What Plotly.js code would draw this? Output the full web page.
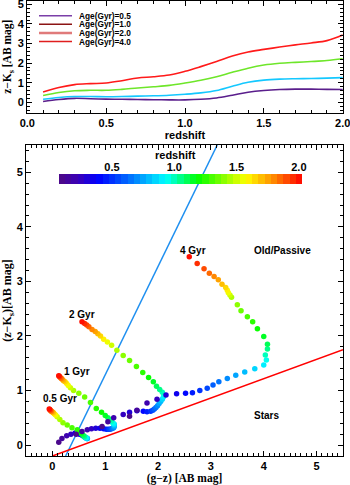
<!DOCTYPE html>
<html>
<head>
<meta charset="utf-8">
<script src="https://cdn.plot.ly/plotly-3.0.1.min.js"></script>
<style>
  html, body { margin: 0; padding: 0; background: #fff; }
  #chart { width: 350px; height: 485px; }
</style>
</head>
<body>
<div id="chart"></div>
<script>
// top panel: z-Ks colour vs redshift for four ages
const redshiftGrid = [0.1, 0.2, 0.3, 0.4, 0.5, 0.6, 0.7, 0.8, 0.9, 1.0,
                      1.1, 1.2, 1.3, 1.4, 1.5, 1.6, 1.7, 1.8, 1.9, 2.0];
const zk05 = [0.04, 0.14, 0.20, 0.18, 0.16, 0.15, 0.14, 0.13, 0.12, 0.12,
              0.15, 0.22, 0.36, 0.51, 0.60, 0.65, 0.67, 0.67, 0.66, 0.65];
const zk10 = [0.15, 0.24, 0.29, 0.29, 0.28, 0.29, 0.31, 0.33, 0.36, 0.41,
              0.48, 0.60, 0.82, 1.02, 1.13, 1.18, 1.20, 1.21, 1.23, 1.26];
const zk20 = [0.34, 0.50, 0.59, 0.61, 0.61, 0.66, 0.73, 0.79, 0.86, 0.98,
              1.12, 1.30, 1.53, 1.74, 1.90, 1.99, 2.04, 2.08, 2.13, 2.22];
const zk40 = [0.52, 0.75, 0.90, 0.95, 0.98, 1.10, 1.24, 1.30, 1.39, 1.58,
              1.82, 2.08, 2.36, 2.57, 2.70, 2.82, 2.93, 3.03, 3.15, 3.44];
const legendLabels = ['Age(Gyr)=0.5', 'Age(Gyr)=1.0', 'Age(Gyr)=2.0', 'Age(Gyr)=4.0'];
const topTicks = [0, 0.5, 1, 1.5, 2];

// bottom panel: colour-colour tracks, redshift 0.1 .. 2.0
const trackZ = [0.10, 0.15, 0.20, 0.25, 0.30, 0.35, 0.40, 0.45, 0.50, 0.55,
                0.60, 0.65, 0.70, 0.75, 0.80, 0.85, 0.90, 0.95, 1.00, 1.05,
                1.10, 1.15, 1.20, 1.25, 1.30, 1.35, 1.40, 1.45, 1.50, 1.55,
                1.60, 1.65, 1.70, 1.75, 1.80, 1.85, 1.90, 1.95, 2.00];
const gz05 = [0.12, 0.18, 0.27, 0.35, 0.43, 0.50, 0.52, 0.56, 0.59, 0.61,
              0.63, 0.64, 0.65, 0.66, 0.66, 0.65, 0.64, 0.63, 0.61, 0.60,
              0.58, 0.55, 0.53, 0.47, 0.37, 0.28, 0.20, 0.14, 0.09, 0.06,
              0.04, 0.02, 0.01, -0.01, -0.02, -0.03, -0.04, -0.05, -0.06];
const zkT05 = [0.05, 0.12, 0.17, 0.20, 0.22, 0.21, 0.20, 0.18, 0.16, 0.15,
               0.14, 0.13, 0.12, 0.12, 0.12, 0.13, 0.13, 0.14, 0.15, 0.16,
               0.18, 0.21, 0.23, 0.28, 0.32, 0.37, 0.41, 0.47, 0.52, 0.55,
               0.57, 0.59, 0.60, 0.61, 0.62, 0.63, 0.64, 0.65, 0.66];
const gz10 = [0.45, 0.56, 0.66, 0.74, 0.82, 0.90, 0.97, 1.02, 1.06, 1.09,
              1.12, 1.14, 1.16, 1.17, 1.17, 1.17, 1.16, 1.14, 1.12, 1.09,
              1.05, 1.00, 0.93, 0.83, 0.72, 0.61, 0.50, 0.40, 0.34, 0.30,
              0.27, 0.24, 0.21, 0.19, 0.17, 0.16, 0.14, 0.13, 0.12];
const zkT10 = [0.20, 0.25, 0.28, 0.30, 0.31, 0.31, 0.30, 0.29, 0.29, 0.29,
               0.30, 0.31, 0.32, 0.34, 0.36, 0.38, 0.39, 0.41, 0.44, 0.47,
               0.50, 0.54, 0.60, 0.67, 0.78, 0.88, 0.95, 1.00, 1.05, 1.09,
               1.13, 1.16, 1.18, 1.20, 1.22, 1.23, 1.25, 1.26, 1.27];
const gz20 = [0.94, 1.05, 1.16, 1.34, 1.46, 1.60, 1.72, 1.79, 1.86, 1.90,
              1.93, 1.96, 1.99, 2.02, 2.05, 2.08, 2.10, 2.11, 2.08, 2.03,
              1.97, 1.91, 1.82, 1.71, 1.59, 1.46, 1.34, 1.22, 1.12, 1.04,
              0.97, 0.91, 0.86, 0.81, 0.75, 0.69, 0.65, 0.61, 0.56];
const zkT20 = [0.34, 0.43, 0.50, 0.56, 0.60, 0.63, 0.62, 0.61, 0.62, 0.64,
               0.66, 0.69, 0.72, 0.76, 0.80, 0.84, 0.88, 0.92, 0.97, 1.02,
               1.08, 1.16, 1.24, 1.33, 1.44, 1.55, 1.64, 1.74, 1.83, 1.89,
               1.94, 2.00, 2.04, 2.08, 2.12, 2.17, 2.20, 2.23, 2.26];
const gz40 = [1.46, 1.60, 1.79, 1.98, 2.15, 2.35, 2.52, 2.65, 2.79, 2.93,
              3.04, 3.15, 3.31, 3.47, 3.64, 3.83, 4.00, 4.05, 4.03, 4.07,
              4.07, 4.00, 3.88, 3.79, 3.69, 3.57, 3.50, 3.39, 3.36, 3.33,
              3.31, 3.28, 3.21, 3.14, 3.06, 2.97, 2.87, 2.74, 2.59];
const zkT40 = [0.53, 0.64, 0.77, 0.84, 0.92, 0.94, 0.95, 0.96, 1.00, 1.04,
               1.10, 1.16, 1.22, 1.28, 1.34, 1.40, 1.47, 1.56, 1.65, 1.76,
               1.85, 1.99, 2.13, 2.26, 2.35, 2.46, 2.57, 2.71, 2.75, 2.79,
               2.84, 2.89, 2.95, 3.03, 3.09, 3.15, 3.23, 3.33, 3.45];

// dividing lines
const passiveLineX = [0.25, 3.12];
const passiveLineY = [-0.2, 5.5];
const starLineX = [0.0, 5.5];
const starLineY = [-0.2, 1.75];

// colour bar blocks
const barZ = [0.10, 0.15, 0.20, 0.25, 0.30, 0.35, 0.40, 0.45, 0.50, 0.55,
              0.60, 0.65, 0.70, 0.75, 0.80, 0.85, 0.90, 0.95, 1.00, 1.05,
              1.10, 1.15, 1.20, 1.25, 1.30, 1.35, 1.40, 1.45, 1.50, 1.55,
              1.60, 1.65, 1.70, 1.75, 1.80, 1.85, 1.90, 1.95, 2.00];
const barTicks = [0.5, 1.0, 1.5, 2.0];

const rainbow = [
  [0.00, '#4e0a84'], [0.08, '#3a00b8'], [0.16, '#0000ff'], [0.30, '#0078ff'],
  [0.44, '#00ffff'], [0.57, '#00ff00'], [0.77, '#ffff00'], [0.88, '#ff8c00'],
  [1.00, '#ff0000']
];

const FONT = 'Liberation Sans, Arial, sans-serif';
const SERIF = 'Liberation Serif, Times New Roman, serif';

const W = 350, H = 485;
const px = v => v / W;
const py = v => 1 - v / H;

const ageColors = ['#5a1e8c', '#14c8ff', '#6ee62a', '#ff1a1a'];
const topCurves = [zk05, zk10, zk20, zk40];

const traces = [];
topCurves.forEach((ys, i) => {
  traces.push({
    x: redshiftGrid, y: ys, type: 'scatter', mode: 'lines',
    line: { color: ageColors[i], width: 1.6, shape: 'spline' },
    xaxis: 'x', yaxis: 'y', showlegend: false, hoverinfo: 'skip'
  });
});

traces.push({
  x: passiveLineX, y: passiveLineY, type: 'scatter', mode: 'lines',
  line: { color: '#1e8ff0', width: 1.5 }, xaxis: 'x2', yaxis: 'y2', showlegend: false
});
traces.push({
  x: starLineX, y: starLineY, type: 'scatter', mode: 'lines',
  line: { color: '#ff0000', width: 1.5 }, xaxis: 'x2', yaxis: 'y2', showlegend: false
});

[[gz05, zkT05], [gz10, zkT10], [gz20, zkT20], [gz40, zkT40]].forEach(t => {
  traces.push({
    x: t[0], y: t[1], type: 'scatter', mode: 'markers',
    marker: { size: 5.5, color: trackZ, colorscale: rainbow, cmin: 0.075, cmax: 2.025, showscale: false },
    xaxis: 'x2', yaxis: 'y2', showlegend: false
  });
});

traces.push({
  x: barZ, y: [0], z: [barZ], type: 'heatmap', colorscale: rainbow,
  zmin: 0.075, zmax: 2.025, showscale: false, xaxis: 'x3', yaxis: 'y3', hoverinfo: 'skip'
});

const tickFont = { family: FONT, size: 11, color: '#000', weight: 'bold' };
const frame = {
  showline: true, mirror: 'allticks', linecolor: '#000', linewidth: 1,
  ticks: 'inside', ticklen: 5, tickcolor: '#000', tickwidth: 1,
  showgrid: false, zeroline: false, tickfont: tickFont, ticklabeloverflow: 'allow'
};

const legendShapes = [];
const legendNotes = [];
const legendSwatch = ['#7b3fa8', '#8b1414', '#e07a7a', '#e01e1e'];
const legendWidth = [1.5, 1.5, 2.5, 1.5];
legendLabels.forEach((lab, i) => {
  const yy = 15.7 + i * 8.6;
  legendShapes.push({
    type: 'line', xref: 'paper', yref: 'paper',
    x0: px(39), x1: px(72), y0: py(yy), y1: py(yy),
    line: { color: legendSwatch[i], width: legendWidth[i] }
  });
  legendNotes.push({
    xref: 'paper', yref: 'paper', x: px(77), y: py(yy), xanchor: 'left', yanchor: 'middle',
    text: lab, showarrow: false, font: { family: FONT, size: 8.3, color: '#000', weight: 'bold' }
  });
});

const label = (x, y, text) => ({
  xref: 'x2', yref: 'y2', x: x, y: y, text: text, showarrow: false,
  xanchor: 'center', yanchor: 'middle',
  font: { family: FONT, size: 10, color: '#000', weight: 'bold' }
});

const layout = {
  width: W, height: H,
  margin: { l: 0, r: 0, t: 0, b: 0 },
  paper_bgcolor: '#fff', plot_bgcolor: '#fff',
  showlegend: false,
  xaxis: Object.assign({}, frame, {
    domain: [px(27), px(343)], range: [-0.002, 2.002],
    tickvals: topTicks, ticktext: topTicks.map(v => v.toFixed(1)),
    minor: { dtick: 0.1, ticks: 'inside', ticklen: 3, tickcolor: '#000' },
    anchor: 'y',
    title: { text: 'redshift', standoff: 1, font: { family: FONT, size: 11, color: '#000', weight: 'bold' } }
  }),
  yaxis: Object.assign({}, frame, {
    domain: [py(113), py(0.5)], range: [-0.55, 5.2], dtick: 1,
    minor: { dtick: 0.2, ticks: 'inside', ticklen: 3, tickcolor: '#000' },
    anchor: 'x',
    title: { text: 'z\u2212K<sub>s</sub> [AB mag]', standoff: 3, font: { family: SERIF, size: 11.5, color: '#000', weight: 'bold' } }
  }),
  xaxis2: Object.assign({}, frame, {
    domain: [px(26), px(343)], range: [-0.5, 5.5], dtick: 1,
    minor: { dtick: 0.1, ticks: 'inside', ticklen: 3, tickcolor: '#000' },
    anchor: 'y2',
    title: { text: '(g\u2212z) [AB mag]', standoff: 1, font: { family: SERIF, size: 11.5, color: '#000', weight: 'bold' } }
  }),
  yaxis2: Object.assign({}, frame, {
    domain: [py(456), py(145)], range: [-0.2, 5.5], dtick: 1,
    minor: { dtick: 0.2, ticks: 'inside', ticklen: 3, tickcolor: '#000' },
    anchor: 'x2',
    title: { text: '(z\u2212K<sub>s</sub>)[AB mag]', standoff: 5, font: { family: SERIF, size: 12, color: '#000', weight: 'bold' } }
  }),
  xaxis3: {
    domain: [px(59), px(302)], range: [0.075, 2.025], anchor: 'y3', side: 'top',
    tickvals: barTicks, ticktext: barTicks.map(v => v.toFixed(1)), ticks: '',
    showline: false, showgrid: false, zeroline: false, tickfont: tickFont
  },
  yaxis3: {
    domain: [py(184), py(174)], range: [-0.5, 0.5], anchor: 'x3',
    showticklabels: false, ticks: '', showline: false, showgrid: false, zeroline: false
  },
  shapes: legendShapes,
  annotations: legendNotes.concat([
    { xref: 'paper', yref: 'paper', x: px(175), y: py(155), xanchor: 'center', yanchor: 'middle',
      text: 'redshift', showarrow: false,
      font: { family: FONT, size: 11, color: '#000', weight: 'bold' } },
    label(2.66, 3.56, '4 Gyr'),
    label(4.35, 3.56, 'Old/Passive'),
    label(0.56, 2.40, '2 Gyr'),
    label(0.47, 1.35, '1 Gyr'),
    label(0.14, 0.86, '0.5 Gyr'),
    label(4.05, 0.55, 'Stars')
  ])
};

Plotly.newPlot('chart', traces, layout, { staticPlot: true, displayModeBar: false });
</script>
</body>
</html>
